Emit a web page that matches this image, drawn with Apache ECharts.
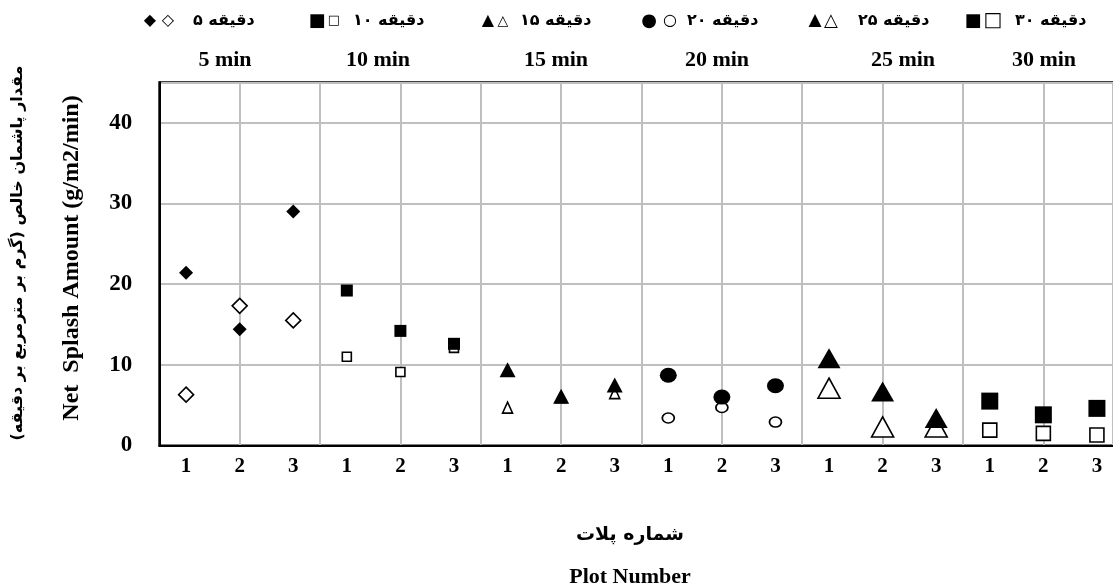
<!DOCTYPE html>
<html><head><meta charset="utf-8">
<script src="https://cdn.jsdelivr.net/npm/echarts@6/dist/echarts.min.js"></script>
<style>html,body{margin:0;padding:0;background:#fff}#c{width:1113px;height:584px}</style>
</head><body><div id="c"></div>
<script>
// ---- data ----
const durationsEn = ['5 min', '10 min', '15 min', '20 min', '25 min', '30 min'];
const durationsFa = ['۵ دقیقه', '۱۰ دقیقه', '۱۵ دقیقه', '۲۰ دقیقه', '۲۵ دقیقه', '۳۰ دقیقه'];
const plotLabels = ['1', '2', '3'];
const yTicks = [0, 10, 20, 30, 40];
const filled5 = [21.4, 14.4, 29.0];
const empty5 = [6.3, 17.3, 15.5];
const filled10 = [19.2, 14.2, 12.6];
const empty10 = [11.0, 9.1, 12.1];
const filled15 = [9.4, 6.1, 7.5];
const empty15 = [4.7, 6.0, 6.5];
const filled20 = [8.7, 6.0, 7.4];
const empty20 = [3.4, 4.7, 2.9];
const filled25 = [10.8, 6.7, 3.4];
const empty25 = [7.1, 2.3, 2.3];
const filled30 = [5.5, 3.8, 4.6];
const empty30 = [1.9, 1.5, 1.3];
const yTitleFa = 'مقدار پاشمان خالص (گرم بر مترمربع بر دقیقه)';
const yTitleEn = 'Net  Splash Amount (g/m2/min)';
const xTitleFa = 'شماره پلات';
const xTitleEn = 'Plot Number';

// ---- layout / style ----
const filledAll = [filled5, filled10, filled15, filled20, filled25, filled30];
const emptyAll = [empty5, empty10, empty15, empty20, empty25, empty30];
const SERIF = '"Liberation Serif", "Times New Roman", serif';
const FA = '"DejaVu Sans", sans-serif';
const XMAX = 35.6;
const styles = [
  { sym: 'diamond', fs: 14, es: 15 },
  { sym: 'rect', fs: 12, es: 9 },
  { sym: 'triangle', fs: [16, 15], es: [10, 11] },
  { sym: 'circle', fs: [17, 15], es: [12, 10] },
  { sym: 'triangle', fs: [23, 20], es: [22, 20] },
  { sym: 'rect', fs: 17, es: 14 }
];
function xu(g, p) { return 2 * (3 * g + p) + 1; }

const series = [];
emptyAll.forEach((arr, g) => {
  series.push({
    type: 'scatter', xAxisIndex: 0, yAxisIndex: 0,
    symbol: styles[g].sym, symbolSize: styles[g].es,
    itemStyle: { color: '#fff', borderColor: '#000', borderWidth: 1.6, opacity: 1 },
    data: arr.map((v, p) => [xu(g, p), v]), z: 3
  });
});
filledAll.forEach((arr, g) => {
  series.push({
    type: 'scatter', xAxisIndex: 0, yAxisIndex: 0,
    symbol: styles[g].sym, symbolSize: styles[g].fs,
    itemStyle: { color: '#000', opacity: 1 },
    data: arr.map((v, p) => [xu(g, p), v]), z: 4
  });
});

const customX = [];
for (let g = 0; g < 6; g++) for (let p = 0; p < 3; p++) customX.push(xu(g, p));

// legend graphics
const legendGlyphs = [['◆', '◇'], ['■', '□'], ['▲', '△'], ['●', '○'], ['▲', '△'], ['■', '□']];
const legendGlyphSize = [[16, 16], [18, 13], [16, 14], [18, 16], [17, 18], [18, 20]];
const legendX = [[150, 168, 193], [317, 334, 353], [488, 503, 520], [649, 670, 687], [815, 831, 858], [973, 993, 1015]];
const enX = [225, 378, 556, 717, 903, 1044];
const graphics = [];
durationsFa.forEach((t, g) => {
  graphics.push({ type: 'text', x: legendX[g][0], y: 21, style: { text: legendGlyphs[g][0], font: legendGlyphSize[g][0] + 'px "DejaVu Sans"', fill: '#000', align: 'center', verticalAlign: 'middle' } });
  graphics.push({ type: 'text', x: legendX[g][1], y: 21, style: { text: legendGlyphs[g][1], font: legendGlyphSize[g][1] + 'px "DejaVu Sans"', fill: '#000', align: 'center', verticalAlign: 'middle' } });
  graphics.push({ type: 'text', x: legendX[g][2], y: 21, style: { text: t, font: 'bold 16px ' + FA, fill: '#000', align: 'left', verticalAlign: 'middle' } });
  graphics.push({ type: 'text', x: enX[g], y: 60, style: { text: durationsEn[g], font: 'bold 22px ' + SERIF, fill: '#000', align: 'center', verticalAlign: 'middle' } });
});
graphics.push({ type: 'text', x: 18, y: 253, rotation: Math.PI / 2, style: { text: yTitleFa, font: 'bold 16px ' + FA, fill: '#000', align: 'center', verticalAlign: 'middle' } });
graphics.push({ type: 'text', x: 72, y: 258, rotation: Math.PI / 2, style: { text: yTitleEn, font: 'bold 24px ' + SERIF, fill: '#000', align: 'center', verticalAlign: 'middle' } });
graphics.push({ type: 'text', x: 630, y: 535, style: { text: xTitleFa, font: 'bold 19px ' + FA, fill: '#000', align: 'center', verticalAlign: 'middle' } });
graphics.push({ type: 'text', x: 630, y: 577, style: { text: xTitleEn, font: 'bold 22px ' + SERIF, fill: '#000', align: 'center', verticalAlign: 'middle' } });

const chart = echarts.init(document.getElementById('c'), null, { renderer: 'canvas' });
chart.setOption({
  animation: false,
  backgroundColor: '#fff',
  grid: { left: 159.3, top: 82.3, bottom: 584 - 445.5, right: -2, show: true, borderColor: '#000', borderWidth: 2, backgroundColor: 'transparent' },
  xAxis: [
    {
      type: 'value', min: 0, max: XMAX, position: 'bottom',
      axisLine: { show: true, lineStyle: { color: '#000', width: 2 } },
      axisTick: { show: false },
      splitLine: { show: false },
      axisLabel: {
        customValues: customX, margin: 11, color: '#000',
        fontFamily: SERIF, fontWeight: 'bold', fontSize: 21,
        formatter: v => plotLabels[((v - 1) / 2) % 3]
      }
    },
    {
      type: 'value', min: 0, max: XMAX, interval: 3, position: 'top',
      axisLine: { show: false }, axisTick: { show: false }, axisLabel: { show: false },
      splitLine: { show: true, lineStyle: { color: '#bfbfbf', width: 2 } }
    }
  ],
  yAxis: {
    type: 'value', min: 0, max: 45, interval: 10,
    axisLine: { show: true, lineStyle: { color: '#000', width: 2 } },
    axisTick: { show: false },
    splitLine: { show: true, lineStyle: { color: '#bfbfbf', width: 2 } },
    axisLabel: {
      margin: 27, color: '#000', fontFamily: SERIF, fontWeight: 'bold', fontSize: 23,
      formatter: v => (yTicks.indexOf(v) >= 0 ? String(v) : '')
    }
  },
  series: series,
  graphic: graphics
});
</script>
</body></html>
